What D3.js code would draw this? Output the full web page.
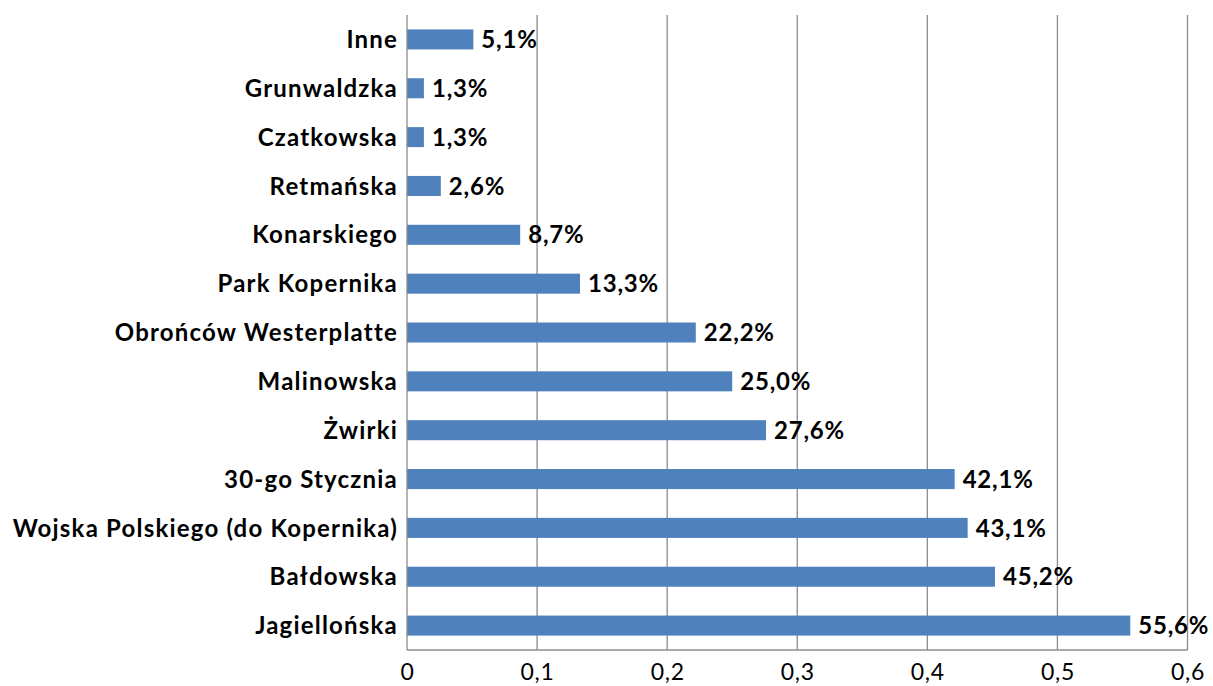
<!DOCTYPE html>
<html><head><meta charset="utf-8">
<script src="https://cdn.jsdelivr.net/npm/d3@7/dist/d3.min.js"></script>
<style>body{margin:0;background:#fff}svg{display:block}</style>
</head><body>
<svg id="c" width="1213" height="686"></svg>
<script>
const categories = ["Inne","Grunwaldzka","Czatkowska","Retmańska","Konarskiego","Park Kopernika","Obrońców Westerplatte","Malinowska","Żwirki","30-go Stycznia","Wojska Polskiego (do Kopernika)","Bałdowska","Jagiellońska"];
const values = [0.051,0.013,0.013,0.026,0.087,0.133,0.222,0.250,0.276,0.421,0.431,0.452,0.556];
const tickValues = [0,0.1,0.2,0.3,0.4,0.5,0.6];
const tickLabels = ["0","0,1","0,2","0,3","0,4","0,5","0,6"];

(function(){
const svg = d3.select("#c");
const mLeft = 407, mRight = 1187.5, mTop = 15, mBottom = 650;
const font = "Lato, 'Open Sans', sans-serif";
const x = d3.scaleLinear().domain([0,0.6]).range([mLeft,mRight]);
const y = d3.scaleBand().domain(categories).range([mTop,mBottom]).paddingInner(0.59).paddingOuter(0.295);

svg.append("g").selectAll("line").data(tickValues.slice(1)).join("line")
  .attr("x1",d=>x(d)).attr("x2",d=>x(d)).attr("y1",mTop).attr("y2",mBottom)
  .attr("stroke","#8c8c8c").attr("stroke-width",1.3);

svg.append("g").selectAll("rect").data(values).join("rect")
  .attr("x",x(0)).attr("y",(d,i)=>y(categories[i]))
  .attr("width",d=>x(d)-x(0)).attr("height",y.bandwidth())
  .attr("fill","#4F81BD");

svg.append("line").attr("x1",mLeft).attr("x2",mLeft).attr("y1",mTop).attr("y2",mBottom).attr("stroke","#8c8c8c").attr("stroke-width",1.3);
svg.append("line").attr("x1",mLeft).attr("x2",mRight).attr("y1",mBottom).attr("y2",mBottom).attr("stroke","#8c8c8c").attr("stroke-width",1.3);

const xAxis = d3.axisBottom(x).tickValues(tickValues).tickSize(0).tickPadding(0).tickFormat((d,i)=>tickLabels[i]);
const gx = svg.append("g").attr("transform",`translate(0,${mBottom})`).call(xAxis);
gx.select(".domain").remove();
gx.selectAll("text").attr("font-family",font).attr("font-size",23).attr("letter-spacing","0.7px")
  .attr("fill","#000").attr("dy",null).attr("y",30);

const yAxis = d3.axisLeft(y).tickSize(0).tickPadding(9);
const gy = svg.append("g").attr("transform",`translate(${mLeft},0)`).call(yAxis);
gy.select(".domain").remove();
gy.selectAll("text").attr("font-family",font).attr("font-size",24).attr("font-weight","bold")
  .attr("letter-spacing","1.2px").attr("fill","#000").attr("dy","0.36em");

svg.append("g").selectAll("text").data(values).join("text")
  .attr("x",d=>x(d)+8).attr("y",(d,i)=>y(categories[i])+y.bandwidth()/2).attr("dy","0.36em")
  .attr("font-family",font).attr("font-size",24).attr("font-weight","bold").attr("letter-spacing","0.8px").attr("fill","#000")
  .text(d=>(d*100).toFixed(1).replace(".",",")+"%");
})();
</script>
</body></html>
